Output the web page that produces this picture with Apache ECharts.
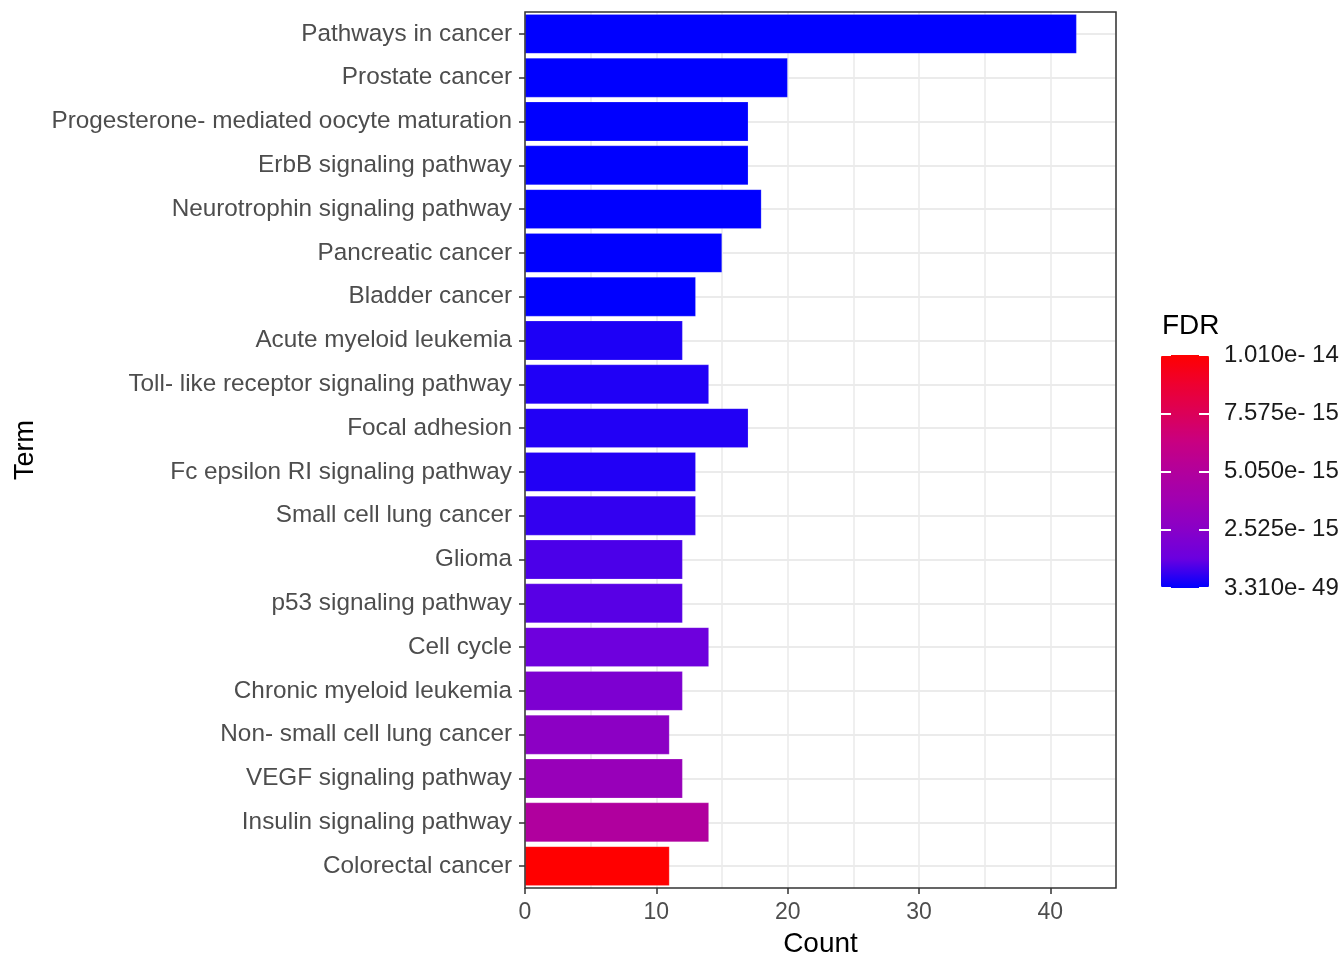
<!DOCTYPE html>
<html>
<head>
<meta charset="utf-8">
<script src="https://cdn.jsdelivr.net/npm/echarts@6/dist/echarts.min.js"></script>
<style>
  html, body { margin: 0; padding: 0; background: #fff; }
  #main { width: 1342px; height: 957px; }
</style>
</head>
<body>
<div id="main"></div>
<script>
// KEGG terms, top to bottom
var terms = [
  'Pathways in cancer',
  'Prostate cancer',
  'Progesterone- mediated oocyte maturation',
  'ErbB signaling pathway',
  'Neurotrophin signaling pathway',
  'Pancreatic cancer',
  'Bladder cancer',
  'Acute myeloid leukemia',
  'Toll- like receptor signaling pathway',
  'Focal adhesion',
  'Fc epsilon RI signaling pathway',
  'Small cell lung cancer',
  'Glioma',
  'p53 signaling pathway',
  'Cell cycle',
  'Chronic myeloid leukemia',
  'Non- small cell lung cancer',
  'VEGF signaling pathway',
  'Insulin signaling pathway',
  'Colorectal cancer'
];
var counts = [42, 20, 17, 17, 18, 15, 13, 12, 14, 17, 13, 13, 12, 12, 14, 12, 11, 12, 14, 11];
var fdr = [
  3.31e-49, 1.2e-30, 4.5e-24, 6.1e-23, 2.2e-22, 1.8e-20, 2.4e-18,
  3.5e-16, 3.8e-16, 4.0e-16, 4.1e-16, 6.1e-16, 8.9e-16, 1.05e-15,
  1.42e-15, 2.05e-15, 2.74e-15, 3.36e-15, 4.92e-15, 1.01e-14
];
var xTicks = [0, 10, 20, 30, 40];
var legendLabels = ['3.310e- 49', '2.525e- 15', '5.050e- 15', '7.575e- 15', '1.010e- 14'];
var fdrMin = 3.31e-49, fdrMax = 1.01e-14;
var ramp = ['#0000FF', '#6A00E0', '#8800C8', '#A000B2', '#B2009C', '#C80082', '#DC0058', '#EE0030', '#FF0000'];

var barData = terms.map(function (t, i) {
  return [counts[i], t, fdr[i]];
});

var chart = echarts.init(document.getElementById('main'));
var font = 'Liberation Sans, Arial, Helvetica, sans-serif';

var option = {
  backgroundColor: '#ffffff',
  animation: false,
  textStyle: { fontFamily: font },
  grid: [
    { left: 525, top: 12, width: 591, height: 876, show: true, borderColor: '#333333', borderWidth: 1.5,
      backgroundColor: 'transparent', z: 3, outerBoundsMode: 'none', containLabel: false },
    { left: 1161, top: 355, width: 48, height: 233, outerBoundsMode: 'none', containLabel: false }
  ],
  xAxis: [
    {
      gridIndex: 0, type: 'value', min: 0, max: 45, interval: 10, position: 'bottom',
      axisLine: { show: false },
      axisTick: { show: true, length: 6, lineStyle: { color: '#333333', width: 1.5 }, customValues: xTicks },
      axisLabel: { color: '#4D4D4D', fontSize: 23, margin: 13, fontFamily: font, customValues: xTicks,
        formatter: function (v) { return v % 10 === 0 ? String(v) : ''; } },
      splitLine: { show: false },
      name: 'Count', nameLocation: 'middle', nameGap: 42,
      nameTextStyle: { color: '#000000', fontSize: 28, fontFamily: font }
    },
    {
      gridIndex: 0, type: 'value', min: 0, max: 45, interval: 5, position: 'top',
      axisLine: { show: false }, axisTick: { show: false }, axisLabel: { show: false },
      splitLine: { show: true, lineStyle: { color: '#EBEBEB', width: 1.6 } }
    },
    { gridIndex: 1, type: 'value', show: false }
  ],
  yAxis: [
    {
      gridIndex: 0, type: 'category', data: terms, inverse: true,
      axisLine: { show: false },
      axisTick: { show: true, alignWithLabel: true, length: 6, lineStyle: { color: '#333333', width: 1.5 } },
      axisLabel: { color: '#4D4D4D', fontSize: 24.3, margin: 13, interval: 0, fontFamily: font },
      splitLine: { show: true, alignWithLabel: true, interval: 0, lineStyle: { color: '#EBEBEB', width: 2 } },
      name: 'Term', nameLocation: 'middle', nameGap: 486,
      nameTextStyle: { color: '#000000', fontSize: 27, fontFamily: font }
    },
    {
      // colour bar labels
      gridIndex: 1, type: 'category', data: legendLabels, boundaryGap: false, position: 'right', z: 10,
      axisLine: { show: false },
      axisTick: { show: false },
      axisLabel: { show: true, interval: 0, margin: 15, color: '#1A1A1A', fontSize: 24, fontFamily: font },
      splitLine: { show: false }
    },
    {
      // white tick marks across the colour bar (dash gap leaves the middle clear)
      gridIndex: 1, type: 'category', data: legendLabels, boundaryGap: false, position: 'left', z: 10,
      axisLine: { show: false },
      axisTick: { show: true, inside: true, length: 48, interval: 0,
        lineStyle: { color: '#ffffff', width: 2, type: [10, 28] } },
      axisLabel: { show: false },
      splitLine: { show: false }
    }
  ],
  visualMap: {
    type: 'continuous',
    seriesIndex: 0,
    dimension: 2,
    min: fdrMin,
    max: fdrMax,
    calculable: false,
    hoverLink: false,
    left: 1161,
    top: 355,
    padding: 0,
    itemWidth: 48,
    itemHeight: 233,
    text: null,
    inRange: { color: ramp },
    z: 4
  },
  graphic: [
    { type: 'text', left: 1162, top: 312, z: 20,
      style: { text: 'FDR', fill: '#000000', fontSize: 28, fontFamily: font } }
  ],
  series: [
    {
      type: 'bar',
      xAxisIndex: 0,
      yAxisIndex: 0,
      data: barData,
      encode: { x: 0, y: 1 },
      barWidth: '90%',
      itemStyle: { borderColor: 'rgba(255,255,255,0.35)', borderWidth: 0.5 },
      z: 2
    }
  ]
};

chart.setOption(option);
window.onresize = chart.resize;
</script>
</body>
</html>
